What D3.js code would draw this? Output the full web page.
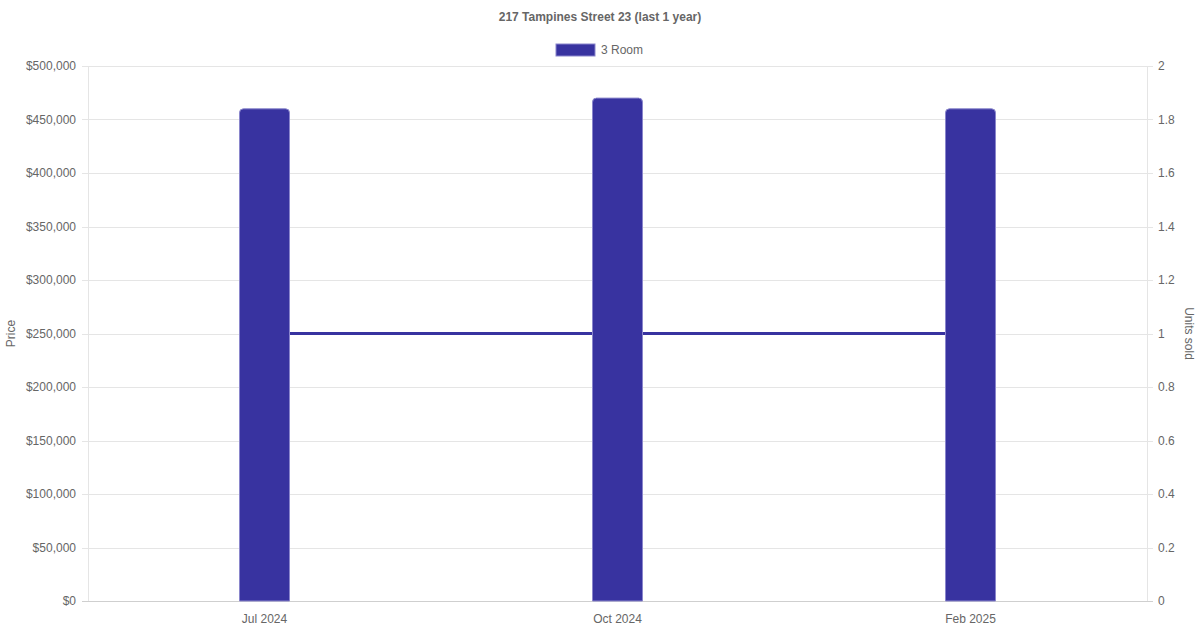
<!DOCTYPE html>
<html>
<head>
<meta charset="utf-8">
<script src="https://cdn.jsdelivr.net/npm/d3@7.9.0/dist/d3.min.js"></script>
<style>
  body { margin: 0; background: #fff; }
  svg { display: block; font-family: "Liberation Sans", Arial, sans-serif; }
</style>
</head>
<body>
<svg id="chart" width="1200" height="630"></svg>
<script>
// chart data
const months = ['Jul 2024', 'Oct 2024', 'Feb 2025'];
const prices = [460000, 470000, 460000];
const unitsSold = [1, 1, 1];
const priceTicks = [0, 50000, 100000, 150000, 200000, 250000, 300000, 350000, 400000, 450000, 500000];
const unitTicks = [0, 0.2, 0.4, 0.6, 0.8, 1, 1.2, 1.4, 1.6, 1.8, 2];

const width = 1200;
const height = 630;
const margin = { top: 66, right: 53, bottom: 29, left: 88 };
const barColor = '#3833a0';
const textColor = '#666';

const svg = d3.select('#chart');

const x = d3.scaleBand()
    .domain(months)
    .range([margin.left, width - margin.right]);

const yPrice = d3.scaleLinear().domain([0, 500000]).range([height - margin.bottom, margin.top]);
const yUnits = d3.scaleLinear().domain([0, 2]).range([height - margin.bottom, margin.top]);

const fmtPrice = d => '$' + d3.format(',')(d);

// grid lines
const grid = svg.append('g');
priceTicks.forEach(t => {
    grid.append('line')
        .attr('x1', margin.left - 6)
        .attr('x2', width - margin.right + 6)
        .attr('y1', Math.round(yPrice(t)) + 0.5)
        .attr('y2', Math.round(yPrice(t)) + 0.5)
        .attr('stroke', t === 0 ? '#cfcfcf' : '#e5e5e5')
        .attr('stroke-width', 1);
});

// vertical axis lines
[margin.left, width - margin.right].forEach(xx => {
    grid.append('line')
        .attr('x1', xx + 0.5).attr('x2', xx + 0.5)
        .attr('y1', margin.top).attr('y2', height - margin.bottom)
        .attr('stroke', '#e5e5e5');
});

// left axis labels
const leftAxis = svg.append('g')
    .attr('transform', `translate(${margin.left - 6},0)`)
    .call(d3.axisLeft(yPrice).tickValues(priceTicks).tickFormat(fmtPrice).tickSize(0).tickPadding(6));
leftAxis.select('.domain').remove();
leftAxis.selectAll('text').attr('fill', textColor).style('font-size', '12px');

// right axis labels
const rightAxis = svg.append('g')
    .attr('transform', `translate(${width - margin.right + 6},0)`)
    .call(d3.axisRight(yUnits).tickValues(unitTicks).tickFormat(d3.format('~g')).tickSize(0).tickPadding(5));
rightAxis.select('.domain').remove();
rightAxis.selectAll('text').attr('fill', textColor).style('font-size', '12px');

// bottom axis labels
const bottomAxis = svg.append('g')
    .attr('transform', `translate(0,${height - margin.bottom})`)
    .call(d3.axisBottom(x).tickSize(0).tickPadding(13));
bottomAxis.select('.domain').remove();
bottomAxis.selectAll('text').attr('fill', textColor).style('font-size', '12px');

// units sold line (behind bars)
const line = d3.line()
    .x((d, i) => x(months[i]) + x.bandwidth() / 2)
    .y(d => yUnits(d));

svg.append('path')
    .datum(unitsSold)
    .attr('d', line)
    .attr('fill', 'none')
    .attr('stroke', barColor)
    .attr('stroke-width', 3);

// price bars with rounded top corners
const barW = 50;
const r = 4;
function barPath(x0, y0, w, yb) {
    return `M${x0},${yb} L${x0},${y0 + r} Q${x0},${y0} ${x0 + r},${y0} ` +
        `L${x0 + w - r},${y0} Q${x0 + w},${y0} ${x0 + w},${y0 + r} L${x0 + w},${yb} Z`;
}

svg.append('g')
    .selectAll('path')
    .data(prices)
    .join('path')
    .attr('d', (d, i) => {
        const cx = x(months[i]) + x.bandwidth() / 2;
        return barPath(cx - barW / 2, yPrice(d), barW, yPrice(0));
    })
    .attr('fill', barColor)
    .attr('stroke', '#8a86cc')
    .attr('stroke-width', 1);

// title
svg.append('text')
    .attr('x', width / 2)
    .attr('y', 21)
    .attr('text-anchor', 'middle')
    .attr('fill', textColor)
    .style('font-size', '12px')
    .style('font-weight', 'bold')
    .text('217 Tampines Street 23 (last 1 year)');

// legend
svg.append('rect')
    .attr('x', 556).attr('y', 44)
    .attr('width', 39).attr('height', 12)
    .attr('fill', barColor)
    .attr('stroke', '#8a86cc')
    .attr('stroke-width', 1);
svg.append('text')
    .attr('x', 601).attr('y', 54)
    .attr('fill', textColor)
    .style('font-size', '12px')
    .text('3 Room');

// axis titles
svg.append('text')
    .attr('transform', `translate(15,${(margin.top + height - margin.bottom) / 2}) rotate(-90)`)
    .attr('text-anchor', 'middle')
    .attr('fill', textColor)
    .style('font-size', '12px')
    .text('Price');

svg.append('text')
    .attr('transform', `translate(1185,${(margin.top + height - margin.bottom) / 2}) rotate(90)`)
    .attr('text-anchor', 'middle')
    .attr('fill', textColor)
    .style('font-size', '12px')
    .text('Units sold');
</script>
</body>
</html>
